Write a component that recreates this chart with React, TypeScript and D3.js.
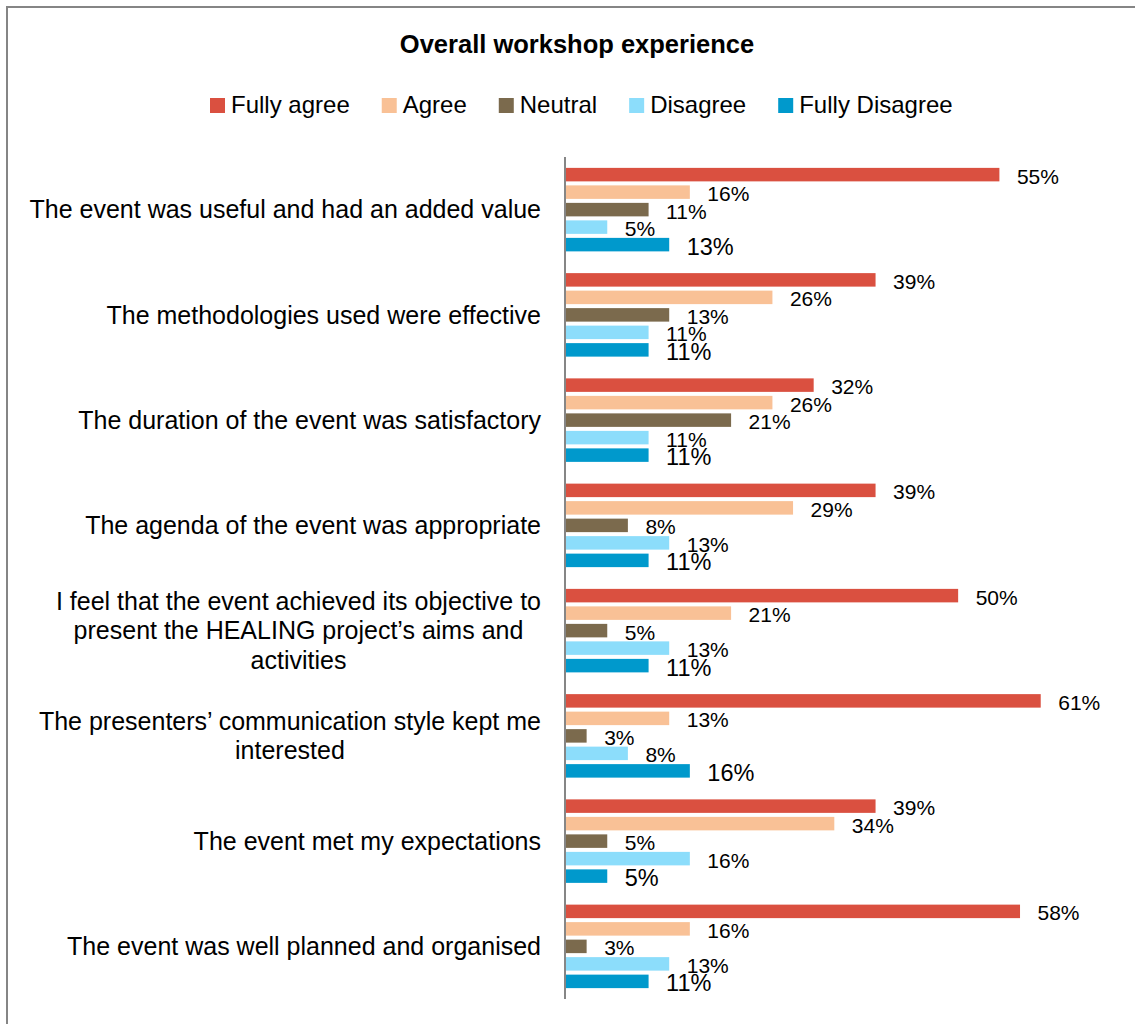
import React, { useEffect, useRef } from "react";
import * as d3 from "d3";

const title = "Overall workshop experience";

const categories = [
  "The event was useful and had an added value",
  "The methodologies used were effective",
  "The duration of the event was satisfactory",
  "The agenda of the event was appropriate",
  "I feel that the event achieved its objective to\npresent the HEALING project’s aims and\nactivities",
  "The presenters’ communication style kept me\ninterested",
  "The event met my expectations",
  "The event was well planned and organised",
];

const seriesNames = ["Fully agree", "Agree", "Neutral", "Disagree", "Fully Disagree"];
const seriesColors = ["#DA5040", "#F9C196", "#7B6A4D", "#8CDDFB", "#0099CC"];

const fullyAgree = [55.26, 39.47, 31.58, 39.47, 50.0, 60.53, 39.47, 57.89];
const agree = [15.79, 26.32, 26.32, 28.95, 21.05, 13.16, 34.21, 15.79];
const neutral = [10.53, 13.16, 21.05, 7.89, 5.26, 2.63, 5.26, 2.63];
const disagree = [5.26, 10.53, 10.53, 13.16, 13.16, 7.89, 15.79, 13.16];
const fullyDisagree = [13.16, 10.53, 10.53, 10.53, 10.53, 15.79, 5.26, 10.53];

const seriesValues = [fullyAgree, agree, neutral, disagree, fullyDisagree];

const W = 1135;
const H = 1024;

export default function App() {
  const ref = useRef<SVGSVGElement | null>(null);

  useEffect(() => {
    const svg = d3.select(ref.current);
    svg.selectAll("*").remove();

    const font = "'Liberation Sans', Arial, sans-serif";

    // chart border
    svg
      .append("rect")
      .attr("x", 7)
      .attr("y", 7)
      .attr("width", W + 20)
      .attr("height", H + 20)
      .attr("fill", "#fff")
      .attr("stroke", "#858585")
      .attr("stroke-width", 2);

    // title
    svg
      .append("text")
      .attr("x", 577)
      .attr("y", 53)
      .attr("text-anchor", "middle")
      .attr("font-family", font)
      .attr("font-weight", "bold")
      .attr("font-size", 25.5)
      .attr("fill", "#000")
      .text(title);

    // legend
    const legend = svg.append("g");
    let lx = 210;
    seriesNames.forEach((name, i) => {
      const g = legend.append("g");
      g.append("rect")
        .attr("x", lx)
        .attr("y", 98)
        .attr("width", 15)
        .attr("height", 15)
        .attr("fill", seriesColors[i]);
      const t = g
        .append("text")
        .attr("x", lx + 21)
        .attr("y", 113)
        .attr("font-family", font)
        .attr("font-size", 24)
        .attr("fill", "#000")
        .text(name);
      const tw = (t.node() as SVGTextElement).getComputedTextLength();
      lx += 21 + tw + 32;
    });

    // scales
    const plotTop = 157;
    const plotBottom = 999;
    const axisX = 566;
    const x = d3.scaleLinear().domain([0, 70]).range([axisX, 1115]);
    const idx = categories.map((_, i) => String(i));
    const p = 17.75 / 105.25;
    const y0 = d3
      .scaleBand<string>()
      .domain(idx)
      .range([plotTop, plotBottom])
      .paddingInner(p)
      .paddingOuter(p / 2);
    const y1 = d3
      .scaleBand<string>()
      .domain(seriesNames)
      .range([0, y0.bandwidth()])
      .paddingInner(4 / 17.5)
      .paddingOuter(2 / 17.5);

    // bars & labels
    categories.forEach((_, ci) => {
      const g = svg.append("g").attr("transform", `translate(0,${y0(String(ci))})`);
      seriesNames.forEach((s, si) => {
        const v = seriesValues[si][ci];
        const by = y1(s) as number;
        const bh = y1.bandwidth();
        g.append("rect")
          .attr("x", x(0))
          .attr("y", by)
          .attr("width", x(v) - x(0))
          .attr("height", bh)
          .attr("fill", seriesColors[si]);
        const fs = si === 4 ? 23.5 : 21;
        g.append("text")
          .attr("x", x(v) + 17.5)
          .attr("y", by + bh / 2 + fs * 0.358 + 1.5)
          .attr("font-family", font)
          .attr("font-size", fs)
          .attr("fill", "#000")
          .text(`${Math.round(v)}%`);
      });
    });

    // category labels
    const lineH = 29.5;
    categories.forEach((c, ci) => {
      const lines = c.split("\n");
      const cy = (y0(String(ci)) as number) + y0.bandwidth() / 2;
      const g = svg.append("g");
      const texts = lines.map((ln, li) =>
        g
          .append("text")
          .attr("y", cy + (li - (lines.length - 1) / 2) * lineH + 8.8)
          .attr("font-family", font)
          .attr("font-size", 25)
          .attr("fill", "#000")
          .attr("text-anchor", "middle")
          .text(ln)
      );
      const maxW = d3.max(texts, (t) => (t.node() as SVGTextElement).getComputedTextLength()) || 0;
      const centerX = 541 - maxW / 2;
      texts.forEach((t) => t.attr("x", centerX));
    });

    // vertical axis line
    svg
      .append("line")
      .attr("x1", axisX - 1)
      .attr("x2", axisX - 1)
      .attr("y1", plotTop)
      .attr("y2", plotBottom)
      .attr("stroke", "#868686")
      .attr("stroke-width", 2);
  }, []);

  return (
    <svg
      ref={ref}
      width={W}
      height={H}
      style={{ position: "absolute", left: 0, top: 0, background: "#fff" }}
    />
  );
}
